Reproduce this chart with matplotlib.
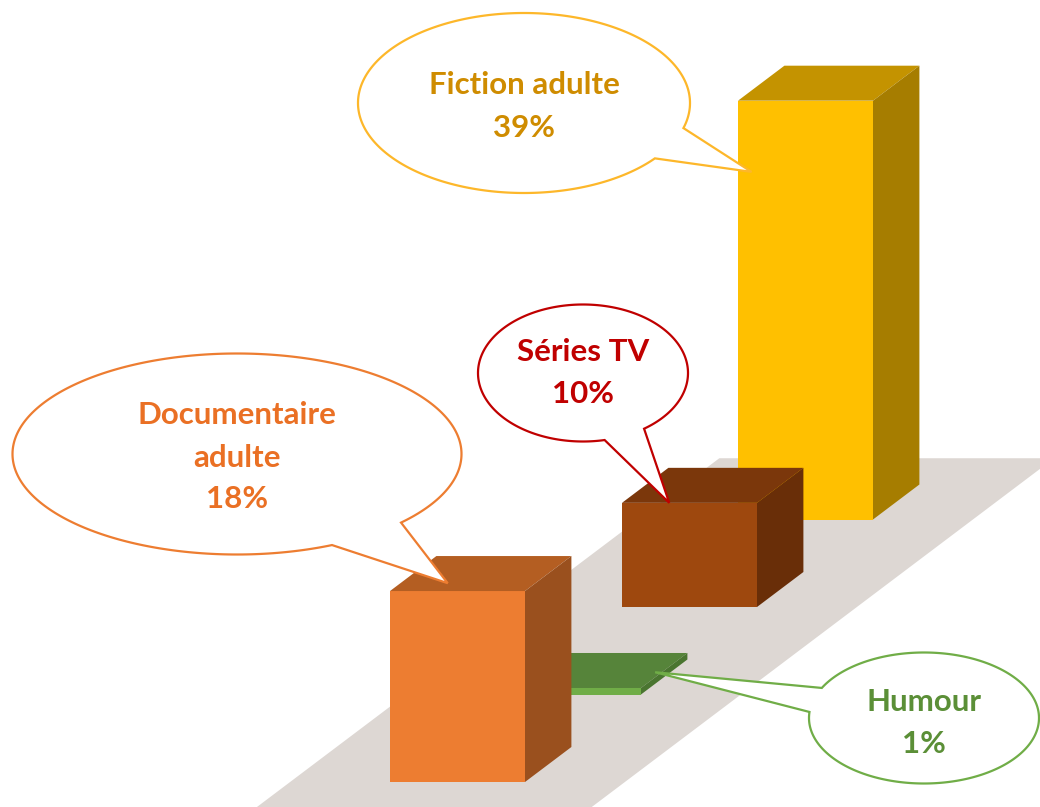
import numpy as np
import matplotlib
matplotlib.use("Agg")
import matplotlib.pyplot as plt
from matplotlib.patches import Polygon

# data (front to back along the depth axis)
categories = ["Documentaire adulte", "Humour", "Séries TV", "Fiction adulte"]
values = [18, 1, 10, 39]
label_lines = [["Documentaire", "adulte", "18%"], ["Humour", "1%"],
               ["Séries TV", "10%"], ["Fiction adulte", "39%"]]

# colours: front, top, side
front_cols = ["#ED7D31", "#70AD47", "#9E480E", "#FFC000"]
top_cols = ["#B45E22", "#56843A", "#7B370B", "#C49300"]
side_cols = ["#9A501E", "#4A7530", "#692E08", "#A67D00"]
text_cols = ["#EA7024", "#5B8F37", "#C00000", "#CF8C00"]
edge_cols = ["#ED7D31", "#70AD47", "#C00000", "#FDB72A"]
floor_col = "#DDD7D3"

# oblique projection (pixel space of the picture)
X0, Y0 = 390, 782          # front-bottom-left of the first bar
STEP = (116, 87.5)         # one category step along depth
BAR_W = 135
BAR_D = 0.4                # bar depth, in category steps
PX_PER_PCT = 10.85
BASE = 0.4                 # value axis origin


def proj(c, u, h):
    """c: depth (category units), u: across (bar widths), h: value"""
    x = X0 + c * STEP[0] + u * BAR_W
    y = Y0 - c * STEP[1] - (h - BASE) * PX_PER_PCT
    return (x, y)


fig = plt.figure(figsize=(10.4, 8.07), dpi=100)
ax = fig.add_axes([0, 0, 1, 1])
ax.set_xlim(0, 1040)
ax.set_ylim(807, 0)
ax.axis("off")

# floor
floor = [proj(-0.3, -0.74, BASE), proj(-0.3, 1.74, BASE),
         proj(3.7, 1.74, BASE), proj(3.7, -0.74, BASE)]
ax.add_patch(Polygon(floor, closed=True, fc=floor_col, ec="none", zorder=1))

# bars, back to front
for i in reversed(range(len(values))):
    v = values[i]
    c0, c1 = i, i + BAR_D
    front = [proj(c0, 0, BASE), proj(c0, 1, BASE), proj(c0, 1, v), proj(c0, 0, v)]
    top = [proj(c0, 0, v), proj(c0, 1, v), proj(c1, 1, v), proj(c1, 0, v)]
    side = [proj(c0, 1, BASE), proj(c1, 1, BASE), proj(c1, 1, v), proj(c0, 1, v)]
    z = 10 + (len(values) - i)
    ax.add_patch(Polygon(front, closed=True, fc=front_cols[i], ec="none", zorder=z))
    ax.add_patch(Polygon(top, closed=True, fc=top_cols[i], ec="none", zorder=z))
    ax.add_patch(Polygon(side, closed=True, fc=side_cols[i], ec="none", zorder=z))

# callouts: ellipse centre, size, wedge base points, anchor on bar (u, dc, value fraction)
bubbles = [
    dict(c=(237, 454), w=449, h=201, b1=(333, 546), b2=(402, 523),
         anchor=(0.35, 0.09, 1.0), base=[424, 467, 508]),
    dict(c=(924, 718), w=230, h=131, b1=(822, 688), b2=(810, 712),
         anchor=(0.95, 0.18, 1.0), base=[711, 753]),
    dict(c=(583, 373), w=210, h=137, b1=(603, 435), b2=(640, 425),
         anchor=(0.35, 0.0, 1.0), base=[361, 403]),
    dict(c=(524, 103), w=332, h=180, b1=(683, 128), b2=(654, 158),
         anchor=(0.1, 0.0, 0.83), base=[94, 137]),
]

for i, b in enumerate(bubbles):
    cx, cy = b["c"]
    a, bb = b["w"] / 2, b["h"] / 2
    t1 = np.arctan2((b["b1"][1] - cy) / bb, (b["b1"][0] - cx) / a)
    t2 = np.arctan2((b["b2"][1] - cy) / bb, (b["b2"][0] - cx) / a)
    if (t2 - t1) % (2 * np.pi) > np.pi:
        t1, t2 = t2, t1
    t1 = t2 + ((t1 - t2) % (2 * np.pi))
    t = np.linspace(t2, t1, 300)
    pts = list(zip(cx + a * np.cos(t), cy + bb * np.sin(t)))
    u, dc, frac = b["anchor"]
    v = values[i]
    tip = proj(i + dc, u, BASE + (v - BASE) * frac)
    pts.append(tip)
    ax.add_patch(Polygon(pts, closed=True, fc="white", ec=edge_cols[i],
                         lw=1.6, zorder=30))
    for line, yb in zip(label_lines[i], b["base"]):
        ax.text(cx, yb, line, ha="center", va="baseline", fontsize=22.5,
                fontweight="bold", family="Lato", color=text_cols[i], zorder=31)

fig.savefig("out.png", dpi=100)
